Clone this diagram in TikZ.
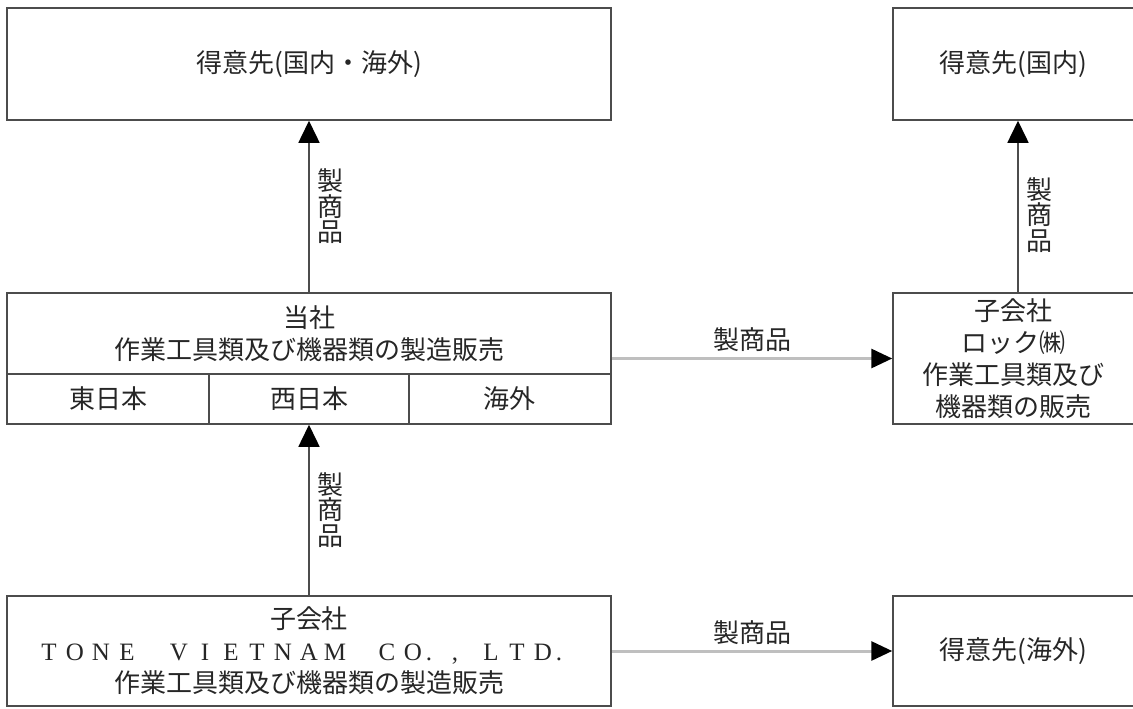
\documentclass[tikz,border=0pt]{standalone}
\usepackage{fontspec}
\setmainfont{Noto Sans CJK JP}
\newfontfamily\tonefont{Liberation Serif}
\usepackage{tikz}
\usetikzlibrary{arrows.meta}
\usetikzlibrary{positioning}
\definecolor{boxline}{gray}{0.3}
\definecolor{upline}{gray}{0.3}
\definecolor{sideline}{gray}{0.75}
\definecolor{inktext}{gray}{0.15}
\newcommand{\fwc}[1]{\makebox[26pt]{#1}}
\newcommand{\fwp}[1]{\makebox[26pt][l]{#1}}
\tikzset{
   box/.style={draw=boxline, line width=1.5pt, rectangle, inner sep=0pt,
      align=center, text=inktext},
   upflow/.style={draw=upline, line width=1.5pt,
      -{Triangle[length=22pt, width=21pt, color=black]}},
   sideflow/.style={draw=sideline, line width=3pt,
      -{Triangle[length=21pt, width=19pt, color=black]}},
   vlabel/.style={inner sep=0pt, align=center, text=inktext,
      font=\fontsize{26}{25.5}\selectfont},
   hlabel/.style={inner sep=0pt, text=inktext},
    }
\begin{document}
\begin{tikzpicture}[x=1pt, y=-1pt, font=\fontsize{26}{32}\selectfont]
   \useasboundingbox (0,0) rectangle (1133,709);
   % customers
   \node[box, minimum width=604, minimum height=112] (kokunaigai) at (309,64) {得意先(国内・海外)};
   \node[box, minimum width=241, minimum height=112] (kokunai) at (1013.5,64) {得意先(国内)};
   % company
   \node[box, minimum width=604, minimum height=131] (tosha) at (309,358.5) {};
   \node[box, minimum width=604, minimum height=81] (toshatop) at (309,333.5) {当社\\作業工具類及び機器類の製造販売};
   \node[box, minimum width=201.33, minimum height=50] (higashi) at (108.33,399) {東日本};
   \node[box, minimum width=201.33, minimum height=50] (nishi) at (309,399) {西日本};
   \node[box, minimum width=201.33, minimum height=50] (kaigai) at (509.67,399) {海外};
   % subsidiaries
   \node[box, minimum width=241, minimum height=131] (rock) at (1013.5,358.5) {子会社\\ロック㈱\\作業工具類及び\\機器類の販売};
   \node[box, minimum width=604, minimum height=110] (tvn) at (309,651) {子会社\\{\tonefont\fontsize{25}{32}\selectfont
      \fwc{T}\fwc{O}\fwc{N}\fwc{E}\fwc{}\fwc{V}\fwc{I}\fwc{E}\fwc{T}\fwc{N}\fwc{A}\fwc{M}\fwc{}\fwc{C}\fwc{O}\fwp{.}\fwp{,}\fwc{L}\fwc{T}\fwc{D}\fwp{.}}\\作業工具類及び機器類の製造販売};
   \node[box, minimum width=241, minimum height=110] (kaigaisaki) at (1013.5,651) {得意先(海外)};
   % flows
   \draw[upflow] (tosha.north) -- node[vlabel, right=8pt] (seihin1) {製\\商\\品} (kokunaigai.south);
   \draw[upflow] ([xshift=4.5pt]rock.north) -- node[vlabel, right=8pt, pos=0.45] (seihin2) {製\\商\\品} ([xshift=4.5pt]kokunai.south);
   \draw[upflow] (tvn.north) -- node[vlabel, right=8pt] (seihin3) {製\\商\\品} (tosha.south);
   \draw[sideflow] (tosha.east) -- node[hlabel, above=5pt] (seihin4) {製商品} (rock.west);
   \draw[sideflow] (tvn.east) -- node[hlabel, above=5pt] (seihin5) {製商品} (kaigaisaki.west);
\end{tikzpicture}
\end{document}
